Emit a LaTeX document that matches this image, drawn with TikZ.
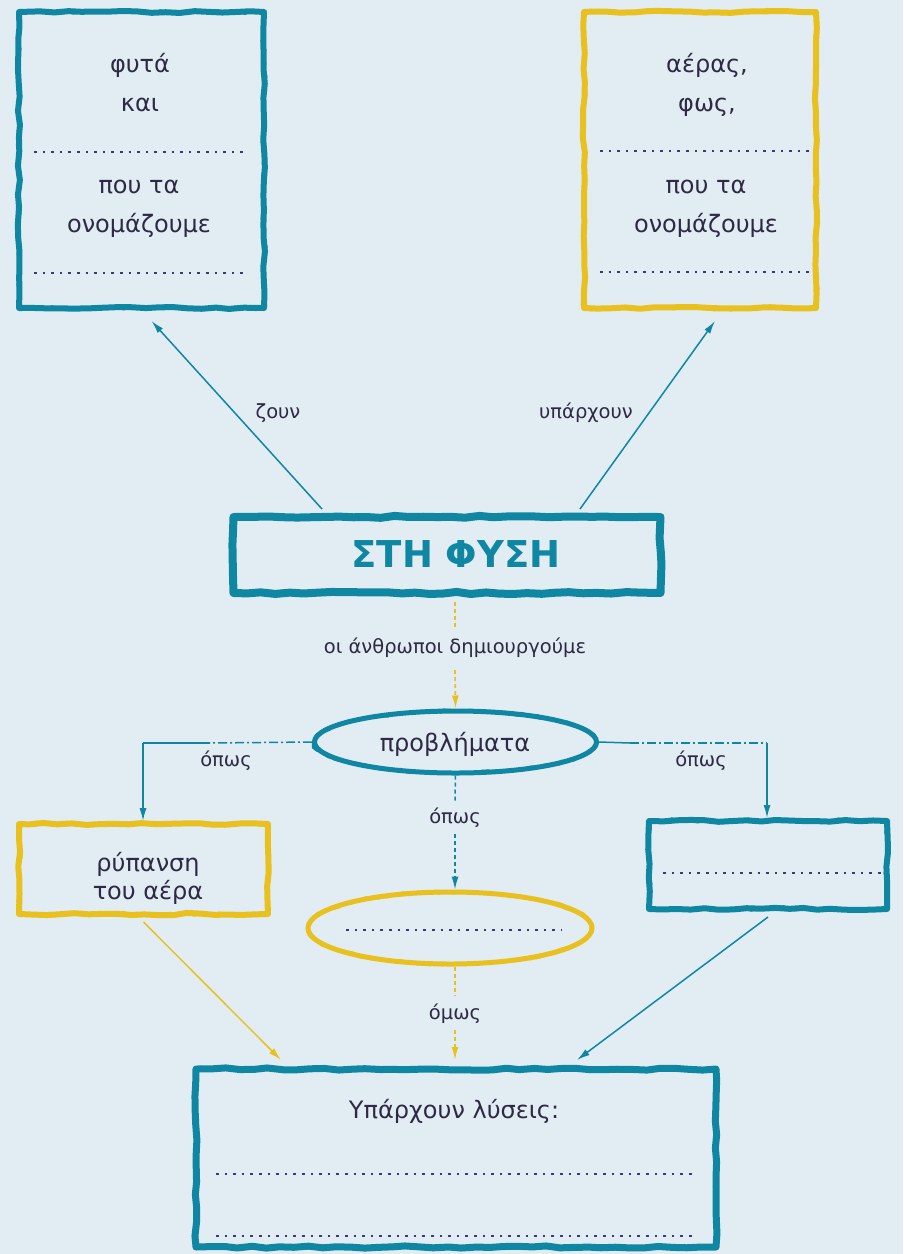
\documentclass[tikz,border=0pt]{standalone}
\usepackage{fontspec}
\setmainfont{DejaVu Sans}
\usetikzlibrary{shapes.geometric,decorations.pathmorphing,arrows.meta,calc}
\definecolor{bg}{HTML}{E2ECF3}
\definecolor{tealc}{HTML}{0F87A3}
\definecolor{yel}{HTML}{E8C11E}
\definecolor{ink}{HTML}{2E2A44}
\definecolor{dotc}{HTML}{3C3A72}
\begin{document}
\begin{tikzpicture}[x=1pt,y=-1pt,
  roughbox/.style={draw=#1, line width=6pt, line join=round, decorate,
    decoration={random steps,segment length=14pt,amplitude=1.1pt},
    postaction={draw=#1, line width=2.4pt, line join=round, decorate,
      decoration={random steps,segment length=6pt,amplitude=2.2pt}}},
  roughell/.style={draw=#1, line width=5pt,
    postaction={draw=#1, line width=2.2pt, line join=round, decorate,
      decoration={random steps,segment length=4pt,amplitude=1.8pt}}},
  boxnode/.style={roughbox=#1, rectangle, inner sep=0pt},
  ellnode/.style={roughell=#1, ellipse, inner sep=0pt},
  txt/.style={text=ink, font=\fontsize{24}{28}\selectfont, anchor=base, inner sep=0pt},
  lbl/.style={text=ink, font=\fontsize{19.5}{23}\selectfont, anchor=base, inner sep=0pt},
  dots/.style={draw=dotc, line width=2pt, dash pattern=on 2.6pt off 6pt},
  tarrow/.style={draw=tealc, line width=1.5pt, -{Latex[length=13pt,width=7pt]}},
  yarrow/.style={draw=yel, line width=1.5pt, -{Latex[length=13pt,width=7pt]}},
  tline/.style={draw=tealc, line width=1.5pt},
  tdash/.style={draw=tealc, line width=1.5pt, dash pattern=on 9pt off 3pt on 2pt off 3pt},
  tdashed/.style={draw=tealc, line width=1.5pt, dash pattern=on 4pt off 3pt},
  ydashed/.style={draw=yel, line width=1.7pt, dash pattern=on 4pt off 3pt},
]
\pgfmathsetseed{11}
\fill[bg] (0,0) rectangle (903,1254);

% top boxes
\node[boxnode=tealc, minimum width=245pt, minimum height=296pt] (plants) at (141.5,160) {};
\node[txt] (p1) at (140,72) {φυτά};
\node[txt] (p2) at (140,111) {και};
\node[txt] (p3) at (139,193) {που τα};
\node[txt] (p4) at (139,232) {ονομάζουμε};
\draw[dots] (34,152) -- (247,152);
\draw[dots] (34,273) -- (247,273);

\node[boxnode=yel, minimum width=232pt, minimum height=296pt] (nature) at (700,160) {};
\node[txt] (n1) at (707,72) {αέρας,};
\node[txt] (n2) at (707,111) {φως,};
\node[txt] (n3) at (706,193) {που τα};
\node[txt] (n4) at (706,232) {ονομάζουμε};
\draw[dots] (600,151) -- (814,151);
\draw[dots] (600,272) -- (814,272);

% centre title
\node[boxnode=tealc, line width=8pt, minimum width=427pt, minimum height=76pt] (fysi) at (447,555) {};
\node[anchor=base, inner sep=0pt, text=tealc, font=\fontsize{37}{40}\bfseries\selectfont] (title) at (456,567) {ΣΤΗ ΦΥΣΗ};

\draw[tarrow] ($(fysi.north)+(-125,-4)$) -- ($(plants.south)+(10,10)$);
\draw[tarrow] ($(fysi.north)+(133,-4)$) -- ($(nature.south)+(15,10)$);
\node[lbl] (l1) at (278,418) {ζουν};
\node[lbl] (l2) at (586,418) {υπάρχουν};

% problems
\node[ellnode=tealc, minimum width=282pt, minimum height=62pt] (probl) at (455.5,742) {};
\node[txt] (pr) at (455,751) {προβλήματα};
\draw[ydashed] ($(fysi.south)+(8,5)$) -- (455,628);
\node[lbl] (l3) at (455,653) {οι άνθρωποι δημιουργούμε};
\draw[ydashed, -{Latex[length=13pt,width=7pt]}] (455,670) -- (probl.north);

% left branch
\node[boxnode=yel, minimum width=249pt, minimum height=90pt] (air) at (143.5,869) {};
\node[txt] (a1) at (148,871) {ρύπανση};
\node[txt] (a2) at (148,899) {του αέρα};
\coordinate (lbend) at (143,743);
\coordinate (lsplit) at (210,743);
\draw[tdash] (probl.west) -- (lsplit);
\draw[tline] (lsplit) -- (lbend);
\draw[tarrow] (lbend) -- (air.north -| lbend);
\node[lbl] (l4) at (226,766) {όπως};

% right branch
\node[boxnode=tealc, minimum width=238pt, minimum height=88pt] (other) at (768,865) {};
\draw[dots] (663,873) -- (885,873);
\coordinate (rbend) at (767,743);
\coordinate (rsplit) at (630,743);
\draw[tline] (probl.east) -- (rsplit);
\draw[tdash] (rsplit) -- (rbend);
\draw[tarrow] (rbend) -- (other.north -| rbend);
\node[lbl] (l5) at (701,766) {όπως};

% middle branch
\node[ellnode=yel, minimum width=284pt, minimum height=72pt] (blank) at (450,928) {};
\draw[dots] (346,930) -- (562,930);
\draw[tdashed] (probl.south) -- (455,801);
\node[lbl] (l6) at (455,823) {όπως};
\draw[tdashed, -{Latex[length=13pt,width=7pt]}] (455,834) -- (blank.north -| 455,0);

% solutions
\node[boxnode=tealc, line width=7pt, minimum width=520pt, minimum height=178pt] (sol) at (456,1158) {};
\node[txt] (s1) at (454,1118) {Υπάρχουν λύσεις:};
\draw[dots] (216,1174) -- (694,1174);
\draw[dots] (216,1236) -- (694,1236);

\draw[ydashed] (blank.south -| 455,0) -- (455,996);
\node[lbl] (l7) at (455,1019) {όμως};
\draw[ydashed, -{Latex[length=13pt,width=7pt]}] (455,1030) -- (455,1060);
\draw[yarrow] ($(air.south)+(0,5)$) -- (281,1060);
\draw[tarrow] ($(other.south)+(0,5)$) -- (577,1060);
\end{tikzpicture}
\end{document}
